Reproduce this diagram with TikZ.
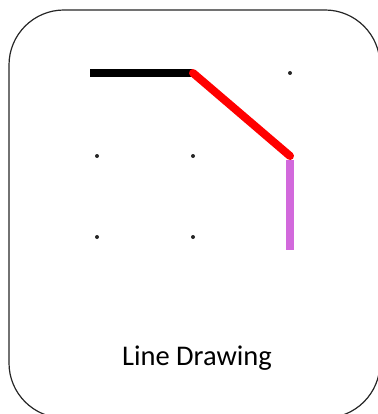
\documentclass[tikz,border=0pt]{standalone}
\usepackage{fontspec}
\setmainfont{Carlito}
\usepackage{tikz}
\definecolor{PathViolet}{RGB}{210, 105, 220}
\definecolor{PathRed}{RGB}{255, 0, 0}

\begin{document}
\begin{tikzpicture}[x=1pt, y=-1pt,
  frame/.style={draw=black!85, line width=1.2pt, rounded corners=55pt},
  dot/.style={circle, fill=black!85, inner sep=0pt, minimum size=4pt},
  seg/.style={line width=8pt},
  caption/.style={font=\fontsize{28.5}{32}\selectfont, text=black}]
  \useasboundingbox (0,0) rectangle (377,414);

  \draw[frame] (9,10) rectangle (380,418);

  % grid of points
  \foreach \c/\x in {1/97, 2/193, 3/290}
    \foreach \r/\y in {1/73, 2/156, 3/237}
      \node[dot] (d\r\c) at (\x,\y) {};

  % drawn path
  \draw[seg, black, shorten <=-7pt] (d11.center) -- (d12.center);
  \draw[seg, PathViolet, shorten <=4pt, shorten >=-13pt] (d23.center) -- (d33.center);
  \draw[seg, PathRed, line cap=round] (d12.center) -- (d23.center);

  \node[caption] (title) at (197,358) {Line Drawing};
\end{tikzpicture}
\end{document}
